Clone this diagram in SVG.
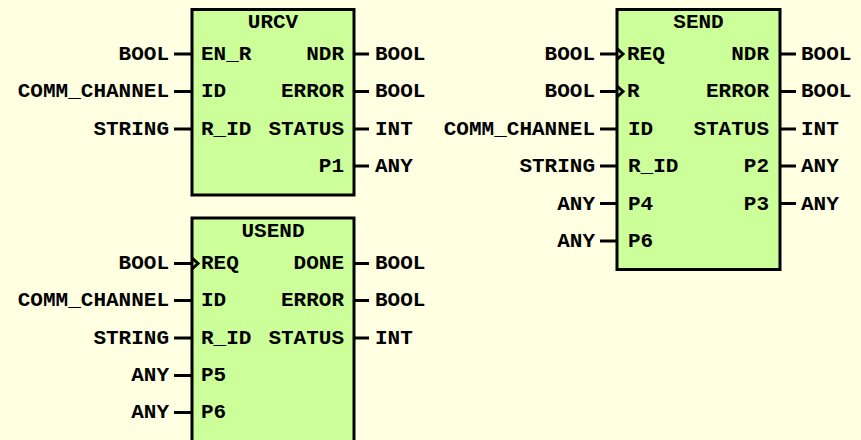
<svg xmlns="http://www.w3.org/2000/svg" width="861" height="440" viewBox="0 0 861 440">
<style>
.bg{fill:#FFFFE1}
.box{fill:#CCFF99;stroke:#000;stroke-width:3}
.pin{stroke:#000;stroke-width:3;fill:none}
.edge{stroke:#000;stroke-width:3;fill:none;stroke-linejoin:miter}
text{font-family:"Liberation Mono","Courier New",monospace;font-weight:bold;font-size:21px;fill:#000}
.r{text-anchor:end}
.m{text-anchor:middle}
</style>
<rect class="bg" x="0" y="0" width="861" height="440"/>
<g id="URCV">
<rect class="box" x="192" y="9.5" width="162" height="185.5"/>
<text class="m" x="273" y="28">URCV</text>
<text x="201" y="60">EN_R</text>
<text x="201" y="97">ID</text>
<text x="201" y="135">R_ID</text>
<text class="r" x="344" y="60">NDR</text>
<text class="r" x="344" y="97">ERROR</text>
<text class="r" x="344" y="135">STATUS</text>
<text class="r" x="344" y="172">P1</text>
<text class="r" x="169" y="60">BOOL</text>
<text class="r" x="169" y="97">COMM_CHANNEL</text>
<text class="r" x="169" y="135">STRING</text>
<text x="375" y="60">BOOL</text>
<text x="375" y="97">BOOL</text>
<text x="375" y="135">INT</text>
<text x="375" y="172">ANY</text>
</g>
<g id="USEND">
<rect class="box" x="192" y="218" width="162" height="230"/>
<text class="m" x="273" y="237">USEND</text>
<text x="201" y="269">REQ</text>
<text x="201" y="306">ID</text>
<text x="201" y="344">R_ID</text>
<text x="201" y="381">P5</text>
<text x="201" y="418">P6</text>
<text class="r" x="344" y="269">DONE</text>
<text class="r" x="344" y="306">ERROR</text>
<text class="r" x="344" y="344">STATUS</text>
<text class="r" x="169" y="269">BOOL</text>
<text class="r" x="169" y="306">COMM_CHANNEL</text>
<text class="r" x="169" y="344">STRING</text>
<text class="r" x="169" y="381">ANY</text>
<text class="r" x="169" y="418">ANY</text>
<text x="375" y="269">BOOL</text>
<text x="375" y="306">BOOL</text>
<text x="375" y="344">INT</text>
</g>
<g id="SEND">
<rect class="box" x="617" y="9.5" width="163" height="260"/>
<text class="m" x="698.5" y="28">SEND</text>
<text x="627" y="60">REQ</text>
<text x="627" y="97">R</text>
<text x="628" y="135">ID</text>
<text x="628" y="172">R_ID</text>
<text x="628" y="210">P4</text>
<text x="628" y="247">P6</text>
<text class="r" x="769" y="60">NDR</text>
<text class="r" x="769" y="97">ERROR</text>
<text class="r" x="769" y="135">STATUS</text>
<text class="r" x="769" y="172">P2</text>
<text class="r" x="769" y="210">P3</text>
<text class="r" x="595" y="60">BOOL</text>
<text class="r" x="595" y="97">BOOL</text>
<text class="r" x="595" y="135">COMM_CHANNEL</text>
<text class="r" x="595" y="172">STRING</text>
<text class="r" x="595" y="210">ANY</text>
<text class="r" x="595" y="247">ANY</text>
<text x="801" y="60">BOOL</text>
<text x="801" y="97">BOOL</text>
<text x="801" y="135">INT</text>
<text x="801" y="172">ANY</text>
<text x="801" y="210">ANY</text>
</g>
<g id="connectors">
<path class="pin" d="M174 54H191M174 91.5H191M174 129H191M354 54H369M354 91.5H369M354 129H369M354 166H369"/>
<path class="pin" d="M174 263.5H191M174 300.5H191M174 338H191M174 375.5H191M174 412.5H191M354 263.5H369M354 300.5H369M354 338H369"/>
<path class="pin" d="M600 54H616M600 91.5H616M600 129H616M600 166H616M600 203.5H616M600 241H616M780 54H796M780 91.5H796M780 129H796M780 166H796M780 203.5H796"/>
<path class="edge" d="M192 258L198 263.5L192 269M617 48.5L623 54L617 59.5M617 86L623 91.5L617 97"/>
</g>
</svg>
